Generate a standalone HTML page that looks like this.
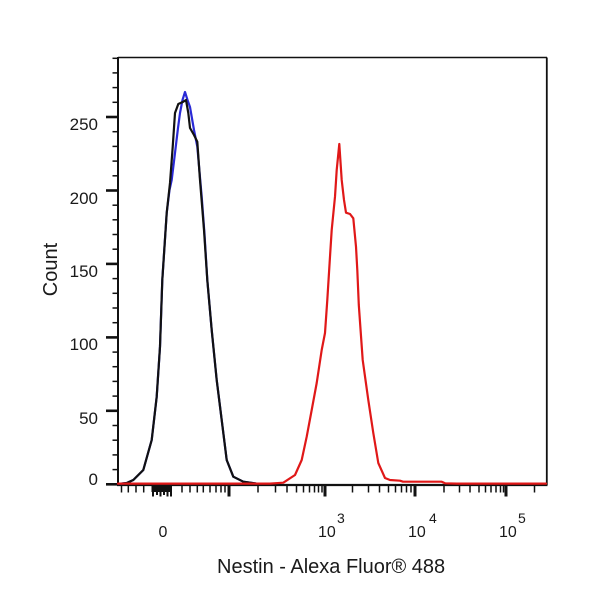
<!DOCTYPE html>
<html>
<head>
<meta charset="utf-8">
<style>
  html, body { margin:0; padding:0; background:#fff; }
  svg { display:block; }
  text { font-family: "Liberation Sans", Arial, sans-serif; fill:#1a1a1a; }
</style>
</head>
<body>
<svg width="600" height="600" viewBox="0 0 600 600" xmlns="http://www.w3.org/2000/svg">
  <rect x="0" y="0" width="600" height="600" fill="#fff"/>

  <!-- frame -->
  <line x1="118" y1="57.5" x2="547" y2="57.5" stroke="#111" stroke-width="1.6"/>
  <line x1="546.8" y1="57.5" x2="546.8" y2="485" stroke="#111" stroke-width="1.8"/>
  <line x1="118" y1="57" x2="118" y2="486" stroke="#111" stroke-width="2"/>
  <line x1="117" y1="485" x2="547.5" y2="485" stroke="#111" stroke-width="2.2"/>

  <!-- Y ticks -->
  <g stroke="#111">
    <!-- majors -->
    <g stroke-width="2.6">
      <line x1="106" y1="484.3" x2="118" y2="484.3"/>
      <line x1="106" y1="410.8" x2="118" y2="410.8"/>
      <line x1="106" y1="337.4" x2="118" y2="337.4"/>
      <line x1="106" y1="263.9" x2="118" y2="263.9"/>
      <line x1="106" y1="190.5" x2="118" y2="190.5"/>
      <line x1="106" y1="117.0" x2="118" y2="117.0"/>
    </g>
    <!-- minors -->
    <g stroke-width="1.5">
      <line x1="112.5" y1="469.6" x2="118" y2="469.6"/>
      <line x1="112.5" y1="454.9" x2="118" y2="454.9"/>
      <line x1="112.5" y1="440.2" x2="118" y2="440.2"/>
      <line x1="112.5" y1="425.5" x2="118" y2="425.5"/>
      <line x1="112.5" y1="396.1" x2="118" y2="396.1"/>
      <line x1="112.5" y1="381.4" x2="118" y2="381.4"/>
      <line x1="112.5" y1="366.7" x2="118" y2="366.7"/>
      <line x1="112.5" y1="352.1" x2="118" y2="352.1"/>
      <line x1="112.5" y1="322.7" x2="118" y2="322.7"/>
      <line x1="112.5" y1="308.0" x2="118" y2="308.0"/>
      <line x1="112.5" y1="293.3" x2="118" y2="293.3"/>
      <line x1="112.5" y1="278.6" x2="118" y2="278.6"/>
      <line x1="112.5" y1="249.2" x2="118" y2="249.2"/>
      <line x1="112.5" y1="234.5" x2="118" y2="234.5"/>
      <line x1="112.5" y1="219.8" x2="118" y2="219.8"/>
      <line x1="112.5" y1="205.2" x2="118" y2="205.2"/>
      <line x1="112.5" y1="175.8" x2="118" y2="175.8"/>
      <line x1="112.5" y1="161.1" x2="118" y2="161.1"/>
      <line x1="112.5" y1="146.4" x2="118" y2="146.4"/>
      <line x1="112.5" y1="131.7" x2="118" y2="131.7"/>
      <line x1="112.5" y1="102.3" x2="118" y2="102.3"/>
      <line x1="112.5" y1="87.6" x2="118" y2="87.6"/>
      <line x1="112.5" y1="72.9" x2="118" y2="72.9"/>
      <line x1="112.5" y1="58.3" x2="118" y2="58.3"/>
    </g>
  </g>

  <!-- Y tick labels -->
  <g font-size="17" text-anchor="end">
    <text x="98" y="485">0</text>
    <text x="98" y="424">50</text>
    <text x="98" y="350">100</text>
    <text x="98" y="277">150</text>
    <text x="98" y="204">200</text>
    <text x="98" y="130">250</text>
  </g>

  <!-- X ticks -->
  <g stroke="#111">
    <g stroke-width="1.5">
      <!-- negative / linear region minors -->
      <line x1="121.5" y1="485" x2="121.5" y2="492.5"/>
      <line x1="128.3" y1="485" x2="128.3" y2="492.5"/>
      <line x1="136" y1="485" x2="136" y2="492.5"/>
      <line x1="143.7" y1="485" x2="143.7" y2="492.5"/>
      <line x1="182" y1="485" x2="182" y2="492.5"/>
      <line x1="190" y1="485" x2="190" y2="492.5"/>
      <line x1="197.3" y1="485" x2="197.3" y2="492.5"/>
      <line x1="203.3" y1="485" x2="203.3" y2="492.5"/>
      <line x1="210" y1="485" x2="210" y2="492.5"/>
      <line x1="216" y1="485" x2="216" y2="492.5"/>
      <line x1="221" y1="485" x2="221" y2="492.5"/>
      <line x1="225" y1="485" x2="225" y2="492.5"/>
      <!-- 10^2 - 10^3 -->
      <line x1="258" y1="485" x2="258" y2="492.5"/>
      <line x1="275.5" y1="485" x2="275.5" y2="492.5"/>
      <line x1="287" y1="485" x2="287" y2="492.5"/>
      <line x1="296.5" y1="485" x2="296.5" y2="492.5"/>
      <line x1="303.5" y1="485" x2="303.5" y2="492.5"/>
      <line x1="309.5" y1="485" x2="309.5" y2="492.5"/>
      <line x1="314.5" y1="485" x2="314.5" y2="492.5"/>
      <line x1="318.5" y1="485" x2="318.5" y2="492.5"/>
      <line x1="322" y1="485" x2="322" y2="492.5"/>
      <!-- 10^3 - 10^4 -->
      <line x1="352.5" y1="485" x2="352.5" y2="492.5"/>
      <line x1="368.5" y1="485" x2="368.5" y2="492.5"/>
      <line x1="379.5" y1="485" x2="379.5" y2="492.5"/>
      <line x1="388.5" y1="485" x2="388.5" y2="492.5"/>
      <line x1="395.5" y1="485" x2="395.5" y2="492.5"/>
      <line x1="401.5" y1="485" x2="401.5" y2="492.5"/>
      <line x1="406.5" y1="485" x2="406.5" y2="492.5"/>
      <line x1="411" y1="485" x2="411" y2="492.5"/>
      <!-- 10^4 - 10^5 -->
      <line x1="444" y1="485" x2="444" y2="492.5"/>
      <line x1="459.5" y1="485" x2="459.5" y2="492.5"/>
      <line x1="470" y1="485" x2="470" y2="492.5"/>
      <line x1="479" y1="485" x2="479" y2="492.5"/>
      <line x1="485.5" y1="485" x2="485.5" y2="492.5"/>
      <line x1="491" y1="485" x2="491" y2="492.5"/>
      <line x1="496" y1="485" x2="496" y2="492.5"/>
      <line x1="500.5" y1="485" x2="500.5" y2="492.5"/>
      <line x1="503.5" y1="485" x2="503.5" y2="492.5"/>
      <!-- beyond 10^5 -->
      <line x1="534.5" y1="485" x2="534.5" y2="492.5"/>
    </g>
    <!-- cluster near zero -->
    <rect x="151.5" y="485" width="20.5" height="7" fill="#111" stroke="none"/>
    <g stroke-width="2">
      <line x1="153" y1="485" x2="153" y2="496.5"/>
      <line x1="157" y1="485" x2="157" y2="495"/>
      <line x1="160.5" y1="485" x2="160.5" y2="496.5"/>
      <line x1="164" y1="485" x2="164" y2="495"/>
      <line x1="167.5" y1="485" x2="167.5" y2="496.5"/>
      <line x1="171" y1="485" x2="171" y2="496.5"/>
    </g>
    <!-- majors -->
    <g stroke-width="3">
      <line x1="229" y1="485" x2="229" y2="496.5"/>
      <line x1="325" y1="485" x2="325" y2="496.5"/>
      <line x1="415" y1="485" x2="415" y2="496.5"/>
      <line x1="506" y1="485" x2="506" y2="496.5"/>
    </g>
  </g>

  <!-- X tick labels -->
  <text x="163" y="537" font-size="16" text-anchor="middle">0</text>
  <text x="318" y="537" font-size="16">10</text>
  <text x="337" y="523" font-size="14">3</text>
  <text x="408" y="537" font-size="16">10</text>
  <text x="429" y="523" font-size="14">4</text>
  <text x="499" y="537" font-size="16">10</text>
  <text x="518" y="523" font-size="14">5</text>

  <!-- axis titles -->
  <text x="217" y="573" font-size="20">Nestin - Alexa Fluor® 488</text>
  <text transform="translate(57,269.5) rotate(-90)" font-size="20" text-anchor="middle">Count</text>

  <!-- Blue series -->
  <polyline fill="none" stroke="#2a2ad6" stroke-width="2.2" stroke-linejoin="round" stroke-linecap="round"
    points="118,484 126.7,483 133.3,480 143.3,470 151.7,440 156.7,396.7 160,346.7 162.3,280 166.7,213 169.5,190 171.7,180 175,153 178,128 180,113 182.5,100 185,92 187.5,100 190,107 194,130 197.3,146.7 201.7,196.7 204.5,234 207.3,280 211.7,330 216.7,380 221.7,420 226.7,460 233.3,476.7 243.3,481.7 256,483.5"/>

  <!-- Black series -->
  <polyline fill="none" stroke="#111" stroke-width="2.2" stroke-linejoin="round" stroke-linecap="round"
    points="118,484 126.7,483 133.3,480 143.3,470 151.7,440 156.7,396.7 160,346.7 162.3,280 166.7,213 170,183 172.7,147 175,113 178.3,104 183.3,101.7 186,100 188.3,113 190,128 194,135 197.3,141.7 200,180 204,230 207.3,280 211.7,330 216.7,380 221.7,420 226.7,460 233.3,476.7 243.3,481.7 256,483.5"/>

  <!-- Red series -->
  <polyline fill="none" stroke="#e01818" stroke-width="2.2" stroke-linejoin="round" stroke-linecap="round"
    points="118,483.6 270,483.6 283.3,482.7 295,475 301.7,460 306.7,436.7 311.7,410 316.7,383 321.7,350 325,333 327.3,300 330,256.7 331.7,230 335,196.7 336.7,170 339.3,144 341.7,180 344,200 346,212.7 350,214 353.3,218.3 356,246.7 357.3,270 358.8,305 362.7,360 368.3,400 373.3,433 378.3,463 385,478 390,480 400,480.7 403,481.7 441.7,481.7 445,483.3 456.7,483.6 546,483.6"/>
</svg>
</body>
</html>
